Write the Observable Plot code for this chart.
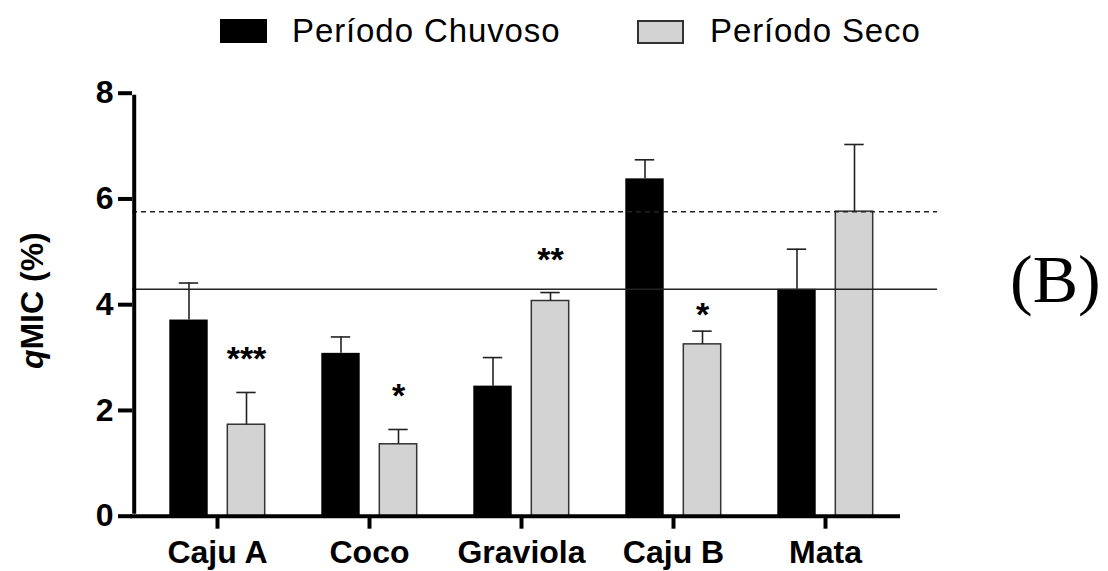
<!DOCTYPE html>
<html><head><meta charset="utf-8">
<script src="https://cdn.jsdelivr.net/npm/d3@7"></script>
<script src="https://cdn.jsdelivr.net/npm/@observablehq/plot@0.6"></script>
<style>
body{margin:0;background:#fff;}
#wrap{position:relative;width:1108px;height:571px;font-family:"Liberation Sans",Arial,sans-serif;overflow:hidden;}
#legend{position:relative;height:60px;}
.sw{position:absolute;box-sizing:border-box;}
.lt{position:absolute;font-size:33px;letter-spacing:0.9px;line-height:1;white-space:nowrap;color:#000;}
#tag{position:absolute;left:1010px;top:245px;font-family:"Liberation Serif","Times New Roman",serif;font-size:68px;line-height:1;color:#000;}
#chart svg{display:block;}
</style></head>
<body><div id="wrap"><div id="legend"></div><div id="chart"></div><div id="tag">(B)</div></div>
<script>
// ---- data ----
const categories = ["Caju A", "Coco", "Graviola", "Caju B", "Mata"];
const seriesNames = ["Período Chuvoso", "Período Seco"];
const chuvoso = [3.71, 3.08, 2.46, 6.38, 4.29];
const chuvosoErr = [0.70, 0.31, 0.54, 0.36, 0.76];
const seco = [1.73, 1.36, 4.07, 3.25, 5.76];
const secoErr = [0.61, 0.28, 0.16, 0.25, 1.27];
const signif = ["***", "*", "**", "*", ""];
const signifY = [3.15, 2.44, 5.02, 3.98, null];
const yTicks = [0, 2, 4, 6, 8];
const refSolid = chuvoso[4];   // Mata, período chuvoso
const refDashed = seco[4];     // Mata, período seco

// ---- legend (HTML) ----
const legend = document.getElementById("legend");
const legendItems = [
  {name: seriesNames[0], fill: "#000", border: "none", sx: 220, sy: 19, tx: 292},
  {name: seriesNames[1], fill: "#d3d3d3", border: "2px solid #333", sx: 637, sy: 20, tx: 710}
];
for (const it of legendItems) {
  const s = document.createElement("div");
  s.className = "sw";
  Object.assign(s.style, {left: it.sx + "px", top: it.sy + "px", width: "47px", height: "24px", background: it.fill, border: it.border});
  legend.appendChild(s);
  const t = document.createElement("div");
  t.className = "lt";
  t.textContent = it.name;
  Object.assign(t.style, {left: it.tx + "px", top: "14px"});
  legend.appendChild(t);
}

// ---- chart ----
const rowsC = categories.map((c, i) => ({cat: c, v: chuvoso[i], e: chuvosoErr[i]}));
const rowsS = categories.map((c, i) => ({cat: c, v: seco[i], e: secoErr[i]}));
const sigRows = categories.map((c, i) => ({cat: c, s: signif[i], y: signifY[i]})).filter(d => d.s);

const axisX0 = 132;
const x0 = 139, x1 = 902;
const step = (x1 - x0) / categories.length, half = step / 2;
const font = "'Liberation Sans', Arial, sans-serif";

const chart = Plot.plot({
  width: 1108,
  height: 511,
  marginLeft: axisX0,
  marginRight: 208,
  marginTop: 32.7,
  marginBottom: 55.3,
  style: {fontFamily: font, background: "white", color: "black", overflow: "visible"},
  x: {domain: categories, range: [x0, x1], padding: 0},
  y: {domain: [0, 8]},
  marks: [
    Plot.barY(rowsC, {x: "cat", y: "v", fill: "#000", insetLeft: half - 48, insetRight: half + 9}),
    Plot.barY(rowsS, {x: "cat", y: "v", fill: "#d3d3d3", stroke: "#333", strokeWidth: 1.5, insetLeft: half + 10, insetRight: half - 48}),
    Plot.ruleX(rowsC, {x: "cat", y1: "v", y2: d => d.v + d.e, dx: -28.5, stroke: "#222", strokeWidth: 1.6}),
    Plot.tickY(rowsC, {x: "cat", y: d => d.v + d.e, insetLeft: half - 38.5, insetRight: half + 18.5, stroke: "#222", strokeWidth: 1.6}),
    Plot.ruleX(rowsS, {x: "cat", y1: "v", y2: d => d.v + d.e, dx: 29, stroke: "#222", strokeWidth: 1.6}),
    Plot.tickY(rowsS, {x: "cat", y: d => d.v + d.e, insetLeft: half + 19, insetRight: half - 39, stroke: "#222", strokeWidth: 1.6}),
    Plot.ruleY([refSolid], {stroke: "#222", strokeWidth: 1.5, insetRight: -37}),
    Plot.ruleY([refDashed], {stroke: "#222", strokeWidth: 1.5, strokeDasharray: "5,4", insetRight: -37}),
    // y axis line at the left edge of the frame
    Plot.ruleX([categories[0]], {x: d => d, y1: 0, y2: yTicks[yTicks.length - 1], dx: axisX0 - (x0 + half), stroke: "#000", strokeWidth: 4, insetTop: -2, insetBottom: -2}),
    Plot.ruleY([0], {stroke: "#000", strokeWidth: 4, insetLeft: -2}),
    Plot.axisY({ticks: yTicks, tickSize: 14, tickPadding: 5, fontSize: 32, fontWeight: "bold", strokeWidth: 4, label: null}),
    Plot.axisX({tickSize: 13, tickPadding: 11, fontSize: 32, fontWeight: "bold", strokeWidth: 4, label: null}),
    Plot.text(["qMIC (%)"], {frameAnchor: "left", textAnchor: "middle", dx: -100, dy: -4, rotate: -90, fontSize: 32, fontWeight: "bold"}),
    Plot.text(sigRows, {x: "cat", y: "y", text: "s", dx: 29, dy: 9, fontSize: 34, fontWeight: "bold"})
  ]
});
document.getElementById("chart").appendChild(chart);

// italic "q" in the y label
for (const t of chart.querySelectorAll("text")) {
  if (t.textContent === "qMIC (%)") {
    const ns = "http://www.w3.org/2000/svg";
    while (t.firstChild) t.removeChild(t.firstChild);
    const a = document.createElementNS(ns, "tspan");
    a.setAttribute("font-style", "italic");
    a.textContent = "q";
    const b = document.createElementNS(ns, "tspan");
    b.textContent = "MIC (%)";
    t.appendChild(a); t.appendChild(b);
  }
}
</script>
</body></html>
